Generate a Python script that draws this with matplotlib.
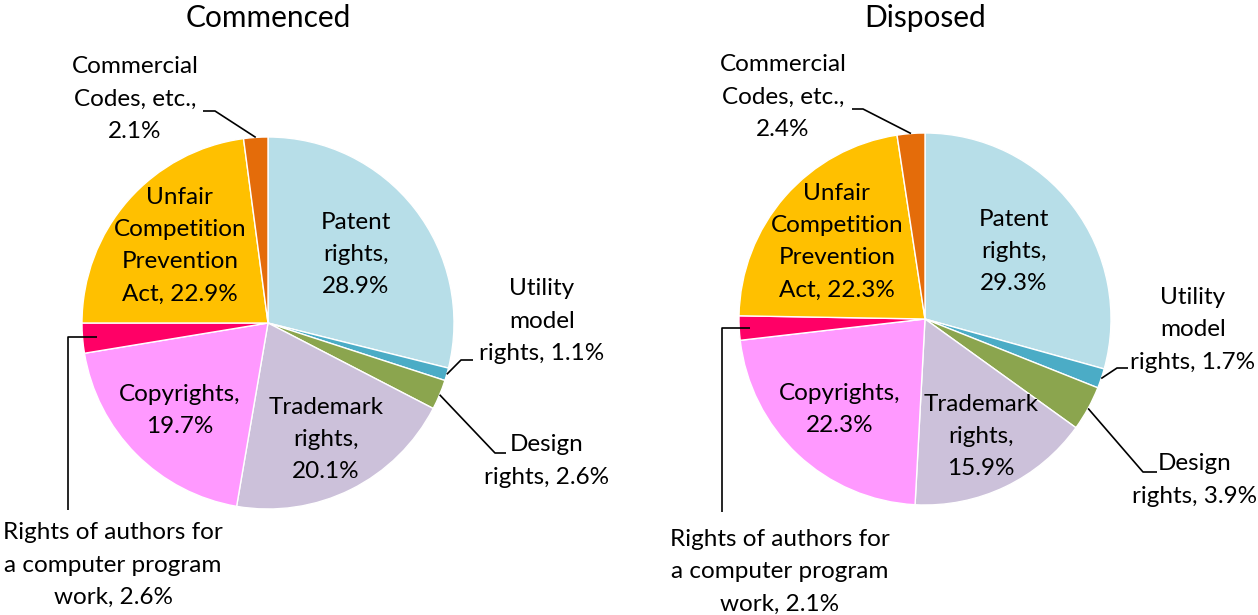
import numpy as np
import matplotlib
matplotlib.use("Agg")
import matplotlib.pyplot as plt

plt.rcParams['font.family'] = ['Lato', 'DejaVu Sans']

categories = ["Patent rights", "Utility model rights", "Design rights", "Trademark rights",
              "Copyrights", "Rights of authors for a computer program work",
              "Unfair Competition Prevention Act", "Commercial Codes, etc."]
commenced = [28.9, 1.1, 2.6, 20.1, 19.7, 2.6, 22.9, 2.1]
disposed = [29.3, 1.7, 3.9, 15.9, 22.3, 2.1, 22.3, 2.4]
titles = ["Commenced", "Disposed"]

label_fmt = ["Patent\nrights,\n{:.1f}%",
             "Utility\nmodel\nrights, {:.1f}%",
             "Design\nrights, {:.1f}%",
             "Trademark\nrights,\n{:.1f}%",
             "Copyrights,\n{:.1f}%",
             "Rights of authors for\na computer program\nwork, {:.1f}%",
             "Unfair\nCompetition\nPrevention\nAct, {:.1f}%",
             "Commercial\nCodes, etc.,\n{:.1f}%"]

colors = ["#B7DEE8", "#4BACC6", "#8BA54E", "#CCC1DA", "#FF99FF", "#FF0066", "#FFC000", "#E46C0A"]

W, H = 1258, 615
R = 186
fs = 17.5
ls = 1.66

def fy(y):
    # reference pixel rows are top-down
    return H - y

# inside label radius fraction (None -> outside label with leader)
inside_r = [0.6, None, None, 0.7, 0.67, None, 0.63, None]

# layout for outside labels: (text x, text y, start radius fraction, elbow points)
layouts = [
    {"center": (268, 323), "title_x": 268,
     1: ((542, 321), 1.0, [(461, 360), (473, 360)]),
     2: ((547, 461), 1.0, [(495, 453), (506, 453)]),
     5: ((113, 565), 0.925, [(68, None), (68, 510)]),
     7: ((135, 99), 1.0, [(215, 111), (203, 111)])},
    {"center": (925, 319), "title_x": 925,
     1: ((1193, 330), 1.0, [(1117, 368), (1128, 368)]),
     2: ((1195, 480), 1.0, [(1143, 472), (1157, 472)]),
     5: ((780, 572), 0.94, [(722, None), (722, 512)]),
     7: ((783, 97), 1.0, [(863, 109), (852, 109)])},
]

fig = plt.figure(figsize=(W / 100, H / 100), dpi=100)
ax = fig.add_axes([0, 0, 1, 1])

for vals, title, lay in zip([commenced, disposed], titles, layouts):
    cx, cy = lay["center"]
    wedges, _ = ax.pie(vals, colors=colors, startangle=90, counterclock=False,
                       center=(cx, fy(cy)), radius=R,
                       wedgeprops=dict(edgecolor="white", linewidth=1))
    for i, w in enumerate(wedges):
        mid = np.deg2rad((w.theta1 + w.theta2) / 2)
        txt = label_fmt[i].format(vals[i])
        if inside_r[i] is not None:
            r = inside_r[i] * R
            ax.text(cx + r * np.cos(mid), fy(cy) + r * np.sin(mid), txt,
                    ha="center", va="center", fontsize=fs, linespacing=ls)
        else:
            (tx, ty), rf, elbows = lay[i]
            px = [cx + rf * R * np.cos(mid)]
            py = [fy(cy) + rf * R * np.sin(mid)]
            for ex, ey in elbows:
                px.append(ex)
                py.append(py[-1] if ey is None else fy(ey))
            ax.plot(px, py, color="black", lw=1.2, solid_capstyle="butt")
            ax.text(tx, fy(ty), txt, ha="center", va="center", fontsize=fs, linespacing=ls)
    ax.text(lay["title_x"], fy(18), title, ha="center", va="center", fontsize=21.5)

ax.set_xlim(0, W)
ax.set_ylim(0, H)
ax.set_aspect("equal")
ax.axis("off")

fig.savefig("out.png", dpi=100, facecolor="white")
